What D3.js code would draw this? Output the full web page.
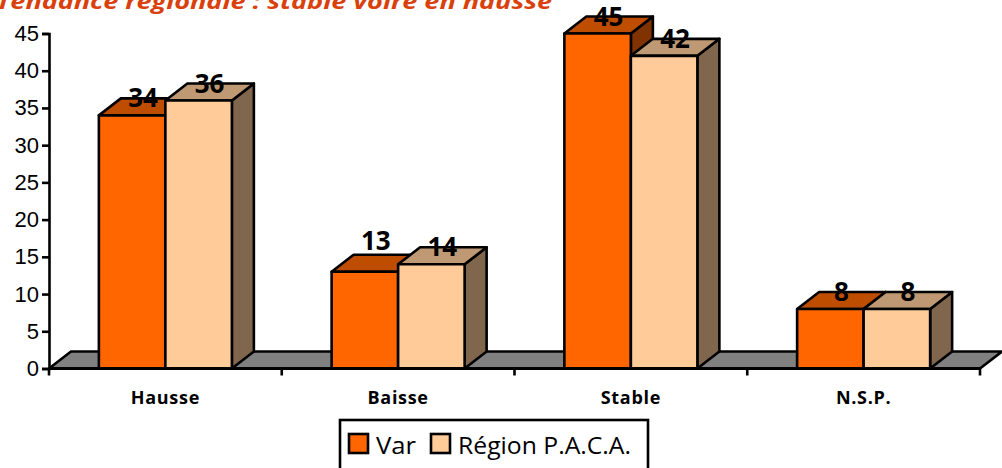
<html>
<head>
<meta charset="utf-8">
<script src="https://d3js.org/d3.v7.min.js"></script>
<style>
body{margin:0;background:#fff;overflow:hidden;}
svg{display:block;}
.comic{font-family:"Comic Sans MS","Open Sans",sans-serif;}
.axis text{font-family:"Liberation Sans",Arial,sans-serif;font-size:22px;fill:#000;}
</style>
</head>
<body>
<script>
// donnees
var categories = ["Hausse","Baisse","Stable","N.S.P."];
var seriesNames = ["Var","Région P.A.C.A."];
var varValues = [34,13,45,8];
var pacaValues = [36,14,42,8];
var yTicks = [0,5,10,15,20,25,30,35,40,45];
var titleText = "Tendance régionale : stable voire en hausse";

var front = ["#ff6600","#ffcc99"];
var top3d = ["#bf4d00","#bf9973"];
var side3d = ["#803300","#80664d"];

var width = 1002, height = 468;
var dx = 22, dy = 17; // profondeur 3D
var lw = 2.6;

var x = d3.scaleBand().domain(categories).range([49,980]);
var y = d3.scaleLinear().domain([0,45]).range([368.5,33.5]);
var barW = 66.5;

var svg = d3.select("body").append("svg").attr("width",width).attr("height",height);

// titre
svg.append("text").attr("class","comic")
	.attr("x",-4).attr("y",9)
	.attr("font-size",20.5).attr("font-weight","bold").attr("font-style","italic")
	.attr("fill","#d9400b")
	.attr("textLength",556).attr("lengthAdjust","spacingAndGlyphs")
	.text(titleText);

// plancher
var x0 = x.range()[0], x1 = x.range()[1], y0 = y(0);
svg.append("path")
	.attr("d",d3.line()([[x0,y0],[x0+dx,y0-dy],[x1+dx,y0-dy],[x1,y0]])+"Z")
	.attr("fill","#808080").attr("stroke","#000").attr("stroke-width",lw);

// axes
var yAxis = d3.axisLeft(y).tickValues(yTicks).tickSize(7).tickPadding(3);
svg.append("g").attr("class","axis").attr("transform","translate("+x0+",0)").call(yAxis)
	.call(function(g){g.selectAll("path,line").attr("stroke","#000").attr("stroke-width",lw);});

var edges = x.domain().map(function(c){return x(c);}).concat([x1]);
svg.selectAll(".xtick").data(edges).enter().append("line")
	.attr("x1",function(d){return d;}).attr("x2",function(d){return d;})
	.attr("y1",y0).attr("y2",y0+7)
	.attr("stroke","#000").attr("stroke-width",lw);

// barres
var allValues = [varValues,pacaValues];
categories.forEach(function(cat,i){
	var center = x(cat)+x.bandwidth()/2;
	[0,1].forEach(function(s){
		var left = center-barW+s*barW, right = left+barW;
		var v = allValues[s][i], t = y(v);
		var g = svg.append("g").attr("stroke","#000").attr("stroke-width",lw).attr("stroke-linejoin","round");
		g.append("path")
			.attr("d",d3.line()([[right,y0],[right+dx,y0-dy],[right+dx,t-dy],[right,t]])+"Z")
			.attr("fill",side3d[s]);
		g.append("path")
			.attr("d",d3.line()([[left,t],[left+dx,t-dy],[right+dx,t-dy],[right,t]])+"Z")
			.attr("fill",top3d[s]);
		g.append("rect")
			.attr("x",left).attr("y",t).attr("width",barW).attr("height",y0-t)
			.attr("fill",front[s]);
	});
});

// axe du bas par dessus les barres
svg.append("line").attr("x1",x0).attr("x2",x1).attr("y1",y0).attr("y2",y0)
	.attr("stroke","#000").attr("stroke-width",3);

// etiquettes des valeurs
categories.forEach(function(cat,i){
	var center = x(cat)+x.bandwidth()/2;
	[0,1].forEach(function(s){
		var v = allValues[s][i];
		var nudge = (i==1 && s==0) ? 14 : 0; // le 13 est plus haut dans l'original
		svg.append("text").attr("class","comic")
			.attr("x",center-barW/2+s*barW+dx/2).attr("y",y(v)-8-nudge)
			.attr("text-anchor","middle")
			.attr("font-size",26).attr("font-weight","bold").attr("fill","#000")
			.text(v);
	});
	svg.append("text").attr("class","comic")
		.attr("x",center).attr("y",404)
		.attr("text-anchor","middle")
		.attr("font-size",18).attr("font-weight","bold").attr("fill","#000")
		.attr("letter-spacing",0.7)
		.text(cat);
});

// legende
svg.append("rect").attr("x",340).attr("y",420).attr("width",308).attr("height",50)
	.attr("fill","#fff").attr("stroke","#000").attr("stroke-width",lw);
var legendX = [349,431];
var legendTextLen = [40,173];
seriesNames.forEach(function(n,i){
	svg.append("rect").attr("x",legendX[i]).attr("y",434).attr("width",19).attr("height",19)
		.attr("fill",front[i]).attr("stroke","#000").attr("stroke-width",lw);
	svg.append("text").attr("class","comic")
		.attr("x",legendX[i]+27).attr("y",454)
		.attr("font-size",24).attr("fill","#000")
		.attr("textLength",legendTextLen[i]).attr("lengthAdjust","spacingAndGlyphs")
		.text(n);
});
</script>
</body>
</html>
